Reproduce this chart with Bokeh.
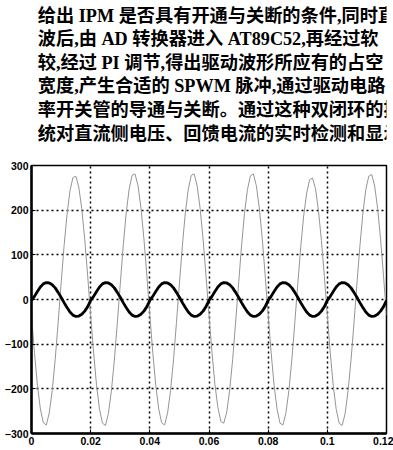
from bokeh.plotting import figure
from bokeh.layouts import column
from bokeh.models import Range1d, FixedTicker, ColumnDataSource
from bokeh.core.properties import value
from bokeh.embed import file_html
from bokeh.resources import INLINE

# ---- data -------------------------------------------------------------
text_lines = [
    "给出 IPM 是否具有开通与关断的条件,同时直",
    "波后,由 AD 转换器进入 AT89C52,再经过软",
    "较,经过 PI 调节,得出驱动波形所应有的占空",
    "宽度,产生合适的 SPWM 脉冲,通过驱动电路",
    "率开关管的导通与关断。通过这种双闭环的控",
    "统对直流侧电压、回馈电流的实时检测和显示",
]

x_ticks = [0, 0.02, 0.04, 0.06, 0.08, 0.1, 0.12]
x_tick_labels = ["0", "0.02", "0.04", "0.06", "0.08", "0.1", "0.12"]
y_ticks = [-300, -200, -100, 0, 100, 200, 300]

# sample times, 1 ms apart (0 .. 0.12 s)
t_ms = list(range(0, 121))

# thin grey trace
grey_vals = [
    -35, -119, -192, -245, -276, -281, -254, -204, -135, -52,
    35, 119, 190, 243, 273, 276, 251, 203, 134, 52,
    -36, -120, -193, -246, -277, -282, -255, -205, -136, -53,
    34, 120, 193, 247, 278, 281, 255, 205, 136, 53,
    -35, -119, -192, -245, -276, -281, -254, -204, -135, -52,
    35, 121, 194, 247, 278, 281, 254, 204, 135, 52,
    -34, -118, -190, -242, -273, -277, -252, -202, -134, -51,
    35, 120, 193, 246, 277, 281, 255, 205, 136, 53,
    -35, -119, -192, -245, -277, -281, -254, -204, -135, -52,
    34, 117, 187, 238, 268, 272, 248, 199, 132, 51,
    -35, -120, -193, -246, -277, -282, -256, -205, -136, -53,
    35, 119, 192, 246, 276, 280, 254, 204, 135, 52,
    -35,
]

# thick black trace
black_vals = [
    -2, 7, 18, 28, 35, 38, 37, 33, 26, 16,
    5, -7, -18, -28, -35, -38, -37, -33, -26, -16,
    -2, 7, 18, 28, 35, 38, 37, 33, 26, 16,
    5, -7, -18, -28, -35, -38, -37, -33, -26, -16,
    -2, 7, 18, 28, 35, 38, 37, 33, 26, 16,
    5, -7, -18, -28, -35, -38, -37, -33, -26, -16,
    -2, 7, 18, 28, 35, 38, 37, 33, 26, 16,
    5, -7, -18, -28, -35, -38, -37, -33, -26, -16,
    -2, 7, 18, 28, 35, 38, 37, 33, 26, 16,
    5, -7, -18, -28, -35, -38, -37, -33, -26, -16,
    -2, 7, 18, 28, 35, 38, 37, 33, 26, 16,
    5, -7, -18, -28, -35, -38, -37, -33, -26, -16,
    -2,
]

# ---- text block -------------------------------------------------------
TW, TH = 393, 150
pt = figure(width=TW, height=TH, x_range=Range1d(0, TW), y_range=Range1d(TH, 0),
            output_backend="svg", toolbar_location=None,
            x_axis_location=None, y_axis_location=None, min_border=0)
pt.grid.visible = False
pt.outline_line_color = None
line_y = [15 + i * 23.6 for i in range(len(text_lines))]
tsrc = ColumnDataSource(dict(x=[7] * len(text_lines), y=line_y, txt=text_lines))
pt.text(x="x", y="y", text="txt", source=tsrc,
        text_font=value("'Liberation Serif', 'Noto Sans CJK SC'"),
        text_font_size="18.2px", text_font_style="bold",
        text_baseline="middle", text_align="left", text_color="black")

# ---- chart ------------------------------------------------------------
t_sec = [m / 1000.0 for m in t_ms]
src = ColumnDataSource(dict(t=t_sec, g=grey_vals, b=black_vals))

p = figure(width=393, height=300, x_range=Range1d(0, 0.12), y_range=Range1d(-300, 300),
           output_backend="svg", toolbar_location=None,
           min_border_top=15, min_border_right=7, min_border_left=31, min_border_bottom=17)
p.line("t", "g", source=src, line_color="#959595", line_width=1)
p.line("t", "b", source=src, line_color="black", line_width=2.8)

p.xaxis.ticker = FixedTicker(ticks=x_ticks)
p.xaxis.major_label_overrides = {v: s for v, s in zip(x_ticks, x_tick_labels)}
p.yaxis.ticker = FixedTicker(ticks=y_ticks)
for ax in (p.xaxis, p.yaxis):
    ax.major_tick_out = 0
    ax.major_tick_in = 4
    ax.minor_tick_out = 0
    ax.minor_tick_in = 0
    ax.major_label_standoff = 3
    ax.axis_line_width = 2.5
    ax.axis_line_color = "black"
    ax.major_tick_line_color = "black"
    ax.major_label_text_font = "Liberation Sans"
    ax.major_label_text_font_style = "bold"
    ax.major_label_text_font_size = "10.5px"
    ax.major_label_text_color = "black"

p.grid.grid_line_color = "black"
p.grid.grid_line_dash = "2 3"
p.grid.grid_line_width = 1.5
p.outline_line_color = "black"
p.outline_line_width = 1.5
p.background_fill_color = "white"
p.border_fill_color = "white"

layout = column(pt, p, spacing=0)
open("out.html", "w").write(file_html(layout, INLINE))
